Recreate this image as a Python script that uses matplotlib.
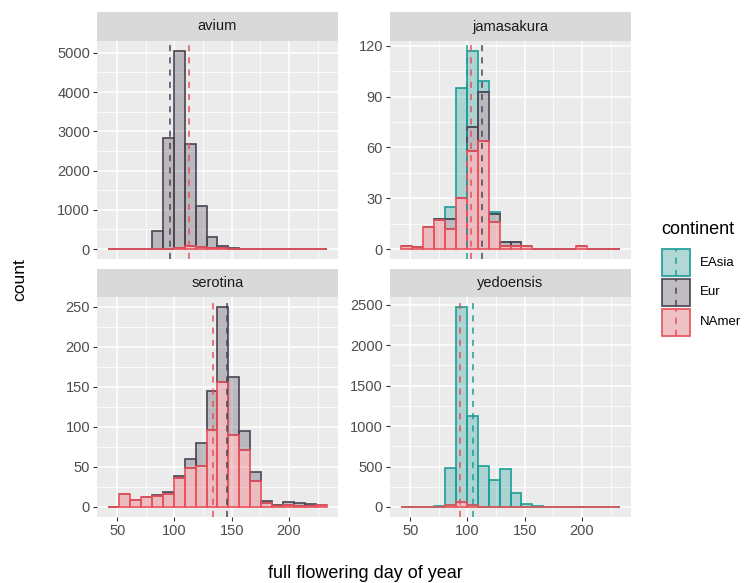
import numpy as np
import matplotlib
matplotlib.use("Agg")
import matplotlib.pyplot as plt
from matplotlib.colors import to_rgba
from matplotlib.patches import Rectangle
from matplotlib.ticker import FixedLocator

plt.rcParams["font.family"] = ["Liberation Sans", "DejaVu Sans"]

W, H = 748, 583

continents = ["EAsia", "Eur", "NAmer"]
colors = {"EAsia": "#1B9E97", "Eur": "#4B4453", "NAmer": "#E8505B"}

species = ["avium", "jamasakura", "serotina", "yedoensis"]

# 20 bins over the shared x range
bin_left = 41.9
bin_width = 9.57
n_bins = 20

# counts per bin
avium_eur = [0, 0, 0, 0, 445, 2805, 5010, 2610, 1030, 290, 48, 20, 5, 2, 0, 0, 0, 0, 0, 0]
avium_namer = [0, 0, 1, 2, 5, 15, 40, 80, 60, 30, 20, 10, 5, 3, 2, 1, 1, 0, 1, 1]

jama_easia = [0, 0, 0, 0, 7, 65, 45, 6, 1, 0, 0, 0, 0, 0, 0, 0, 0, 0, 0, 0]
jama_eur = [0, 0, 0, 1, 6, 0, 14, 29, 5, 2, 2, 0, 0, 0, 0, 0, 0, 0, 0, 0]
jama_namer = [2, 1, 13, 17, 12, 30, 58, 64, 16, 2, 2, 2, 0, 0, 0, 0, 2, 0, 0, 0]

sero_eur = [0, 0, 0, 0, 1, 3, 3, 11, 29, 49, 94, 72, 24, 12, 3, 2, 4, 4, 3, 0]
sero_namer = [0, 16, 9, 12, 14, 16, 36, 49, 51, 96, 156, 90, 71, 32, 5, 1, 2, 1, 1, 2]

yedo_easia = [0, 0, 3, 11, 455, 2408, 1093, 496, 337, 464, 174, 37, 8, 0, 0, 0, 0, 0, 0, 0]
yedo_namer = [0, 0, 0, 5, 25, 62, 25, 5, 2, 0, 0, 0, 0, 0, 0, 0, 0, 0, 0, 0]

counts = {
    "avium": {"Eur": avium_eur, "NAmer": avium_namer},
    "jamasakura": {"EAsia": jama_easia, "Eur": jama_eur, "NAmer": jama_namer},
    "serotina": {"Eur": sero_eur, "NAmer": sero_namer},
    "yedoensis": {"EAsia": yedo_easia, "NAmer": yedo_namer},
}

# mean flowering day per continent (dashed lines)
means = {
    "avium": {"Eur": 96.5, "NAmer": 113.1},
    "jamasakura": {"EAsia": 99.4, "Eur": 112.5, "NAmer": 103.2},
    "serotina": {"Eur": 145.9, "NAmer": 133.7},
    "yedoensis": {"EAsia": 105.2, "NAmer": 93.6},
}

yticks = {
    "avium": [0, 1000, 2000, 3000, 4000, 5000],
    "jamasakura": [0, 30, 60, 90, 120],
    "serotina": [0, 50, 100, 150, 200, 250],
    "yedoensis": [0, 500, 1000, 1500, 2000, 2500],
}
xticks = [50, 100, 150, 200]
xminor = [75, 125, 175, 225]

fig = plt.figure(figsize=(W / 100, H / 100), dpi=100)


def fig_rect(left, top, right, bottom):
    return [left / W, 1 - bottom / H, (right - left) / W, (bottom - top) / H]


cols = [(97, 338), (390, 631)]
rows = [(12, 41, 259), (269, 297, 517)]

lefts = bin_left + bin_width * np.arange(n_bins)
span = bin_width * n_bins
xlim = (bin_left - 0.05 * span, bin_left + span + 0.05 * span)

for i, sp in enumerate(species):
    r, c = divmod(i, 2)
    x0, x1 = cols[c]
    st, pt, pb = rows[r]

    sax = fig.add_axes(fig_rect(x0, st, x1, pt))
    sax.set_facecolor("#D9D9D9")
    sax.set_xticks([])
    sax.set_yticks([])
    for s in sax.spines.values():
        s.set_visible(False)
    sax.text(0.5, 0.5, sp, ha="center", va="center", fontsize=10.5, color="#1A1A1A",
             transform=sax.transAxes)

    ax = fig.add_axes(fig_rect(x0, pt, x1, pb))
    ax.set_facecolor("#EBEBEB")
    for s in ax.spines.values():
        s.set_visible(False)

    groups = counts[sp]
    # stacking: NAmer at bottom, EAsia on top
    bottoms = {}
    acc = np.zeros(n_bins)
    for cont in ["NAmer", "Eur", "EAsia"]:
        if cont in groups:
            bottoms[cont] = acc.copy()
            acc = acc + np.array(groups[cont])
    top = acc.max()

    for cont in continents:
        if cont not in groups:
            continue
        col = colors[cont]
        ax.bar(lefts, groups[cont], width=bin_width, bottom=bottoms[cont], align="edge",
               facecolor=to_rgba(col, 0.3), edgecolor=col, linewidth=1.2, zorder=2)
    for cont in continents:
        if cont in means[sp]:
            ax.axvline(means[sp][cont], color=colors[cont], linestyle=(0, (4, 4)),
                       linewidth=1.1, zorder=3)

    ax.set_xlim(xlim)
    ax.set_ylim(-0.05 * top, 1.05 * top)
    yt = yticks[sp]
    ax.set_yticks(yt)
    ax.yaxis.set_minor_locator(FixedLocator([v + (yt[1] - yt[0]) / 2 for v in yt]))
    ax.set_xticks(xticks)
    ax.xaxis.set_minor_locator(FixedLocator(xminor))
    ax.grid(which="major", color="white", linewidth=1.1, zorder=0)
    ax.grid(which="minor", color="white", linewidth=0.55, zorder=0)
    ax.set_axisbelow(True)
    ax.tick_params(which="minor", length=0)
    ax.tick_params(which="major", length=3, width=0.8, color="#333333",
                   labelsize=10.5, labelcolor="#4D4D4D", pad=2)
    if r == 0:
        ax.tick_params(axis="x", which="major", length=0, labelbottom=False)

fig.text(20 / W, 1 - 280 / H, "count", rotation=90, ha="center", va="center",
         fontsize=12.5, color="black")
fig.text(365 / W, 1 - 573 / H, "full flowering day of year", ha="center", va="center",
         fontsize=13, color="black")

# legend
fig.text(661 / W, 1 - 230 / H, "continent", ha="left", va="center", fontsize=13)
lax = fig.add_axes(fig_rect(661, 248, 691, 337))
lax.set_xlim(0, 1)
lax.set_ylim(0, 3)
lax.axis("off")
for k, cont in enumerate(continents):
    y = 2 - k
    col = colors[cont]
    lax.add_patch(Rectangle((0, y), 1, 1, facecolor="#F2F2F2", edgecolor="none"))
    lax.add_patch(Rectangle((0.04, y + 0.04), 0.92, 0.92, facecolor=to_rgba(col, 0.3),
                            edgecolor=col, linewidth=1.2))
    lax.plot([0.5, 0.5], [y + 0.04, y + 0.96], color=col, linestyle=(0, (4, 4)),
             linewidth=1.1)
    fig.text(700 / W, 1 - (248 + 14.8 + 29.6 * k) / H, cont, ha="left", va="center",
             fontsize=9.5)

fig.savefig("out.png", dpi=100)
